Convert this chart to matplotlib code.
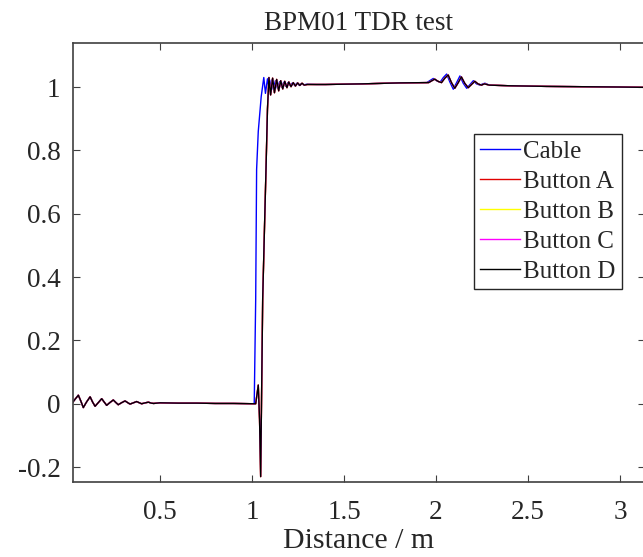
import matplotlib
matplotlib.use("Agg")
import matplotlib.pyplot as plt

# ---- data ----
title = "BPM01 TDR test"
xlabel = "Distance / m"
series_names = ["Cable", "Button A", "Button B", "Button C", "Button D"]
series_colors = ["#0000ff", "#e00000", "#ffff00", "#ff00ff", "#000000"]

x_ticks = [0.5, 1, 1.5, 2, 2.5, 3]
x_tick_labels = ["0.5", "1", "1.5", "2", "2.5", "3"]
y_ticks = [-0.2, 0, 0.2, 0.4, 0.6, 0.8, 1]
y_tick_labels = ["-0.2", "0", "0.2", "0.4", "0.6", "0.8", "1"]

# common ringing before the step
pre_x = [0.027, 0.056, 0.070, 0.083, 0.100, 0.120, 0.133, 0.147, 0.165, 0.183,
         0.197, 0.210, 0.228, 0.246, 0.260, 0.273, 0.290, 0.310, 0.323, 0.337,
         0.355, 0.373, 0.388, 0.400, 0.420, 0.437, 0.452, 0.465, 0.500, 0.600,
         0.700, 0.800, 0.900, 1.000]
pre_y = [0.006, 0.027, 0.008, -0.012, 0.005, 0.022, 0.006, -0.008, 0.004, 0.016,
         0.005, -0.005, 0.004, 0.012, 0.004, -0.003, 0.003, 0.009, 0.004, -0.001,
         0.003, 0.007, 0.003, 0.000, 0.003, 0.005, 0.002, 0.001, 0.003, 0.002,
         0.002, 0.001, 0.001, 0.000]

# Cable: step, ringing and later ripple
cable_x = [1.012, 1.020, 1.025, 1.034, 1.050, 1.064, 1.073, 1.084, 1.094, 1.105,
           1.116, 1.127, 1.138, 1.150, 1.161, 1.172, 1.184, 1.196, 1.208, 1.220,
           1.232, 1.244, 1.256, 1.268, 1.280, 1.300, 1.350, 1.400, 1.600, 1.800,
           1.950, 1.985, 2.003, 2.022, 2.040, 2.058, 2.076, 2.094, 2.112, 2.130,
           2.148, 2.167, 2.185, 2.203, 2.220, 2.239, 2.255, 2.266, 2.290, 2.400,
           2.600, 2.800, 3.000, 3.136]
cable_y = [0.000, 0.330, 0.740, 0.860, 0.970, 1.030, 0.980, 1.026, 0.988, 1.022,
           0.992, 1.020, 0.996, 1.017, 0.999, 1.015, 1.002, 1.014, 1.004, 1.013,
           1.005, 1.012, 1.006, 1.011, 1.007, 1.009, 1.008, 1.008, 1.010, 1.013,
           1.014, 1.027, 1.020, 1.015, 1.030, 1.041, 1.015, 0.993, 1.014, 1.035,
           1.012, 0.996, 1.008, 1.020, 1.010, 1.006, 1.010, 1.012, 1.006, 1.004,
           1.002, 1.001, 1.000, 0.999]

# Buttons: negative spike, later step, ringing and ripple
button_x = [1.020, 1.034, 1.041, 1.047, 1.058, 1.068, 1.076, 1.084, 1.092, 1.101,
            1.112, 1.122, 1.134, 1.145, 1.156, 1.167, 1.178, 1.190, 1.200, 1.212,
            1.224, 1.236, 1.248, 1.260, 1.272, 1.284, 1.300, 1.350, 1.400, 1.600,
            1.800, 1.960, 1.993, 2.011, 2.030, 2.048, 2.066, 2.084, 2.102, 2.120,
            2.138, 2.156, 2.175, 2.193, 2.211, 2.228, 2.247, 2.263, 2.290, 2.400,
            2.600, 2.800, 3.000, 3.136]
button_y = [0.000, 0.059, -0.050, -0.230, 0.330, 0.560, 0.740, 0.930, 1.030, 0.975,
            1.028, 0.982, 1.024, 0.988, 1.020, 0.994, 1.018, 0.998, 1.016, 1.001,
            1.014, 1.003, 1.013, 1.005, 1.012, 1.006, 1.008, 1.008, 1.008, 1.010,
            1.013, 1.014, 1.025, 1.018, 1.014, 1.028, 1.038, 1.014, 0.996, 1.013,
            1.032, 1.012, 0.998, 1.008, 1.018, 1.010, 1.006, 1.010, 1.006, 1.004,
            1.002, 1.001, 1.000, 0.999]

# ---- figure ----
plt.rcParams["font.family"] = ["Liberation Serif", "DejaVu Serif"]
W, H = 643, 557
fig = plt.figure(figsize=(W / 100, H / 100), dpi=100)
ax_left, ax_right, ax_top, ax_bottom = 73, 645, 43, 482
ax = fig.add_axes([ax_left / W, 1 - ax_bottom / H,
                   (ax_right - ax_left) / W, (ax_bottom - ax_top) / H])

lines = []
cable_full_x = pre_x[:-1] + cable_x
cable_full_y = pre_y[:-1] + cable_y
button_full_x = pre_x[:-1] + button_x
button_full_y = pre_y[:-1] + button_y

for name, color in zip(series_names, series_colors):
    if name == "Cable":
        xs, ys = cable_full_x, cable_full_y
    else:
        xs, ys = button_full_x, button_full_y
    ln, = ax.plot(xs, ys, color=color, lw=1.0, label=name)
    lines.append(ln)

ax.set_xlim(0.027, 3.136)
ax.set_ylim(-0.247, 1.139)
ax.set_xticks(x_ticks)
ax.set_xticklabels(x_tick_labels)
ax.set_yticks(y_ticks)
ax.set_yticklabels(y_tick_labels)

axis_color = "#404040"
for s in ax.spines.values():
    s.set_color(axis_color)
    s.set_linewidth(1.2)
ax.tick_params(direction="in", length=5, width=0.8, color=axis_color,
               labelsize=19.5, labelcolor="#262626", top=True, right=True)
ax.tick_params(axis="x", pad=13)
ax.tick_params(axis="y", pad=9)

ax.set_title(title, fontsize=19.5, color="#262626", pad=9)
ax.set_xlabel(xlabel, fontsize=21.5, color="#262626", labelpad=2)

leg = ax.legend(handles=lines, loc="upper left",
                bbox_to_anchor=(474 / W, 1 - 134 / H), bbox_transform=fig.transFigure,
                fontsize=18, frameon=True, fancybox=False, framealpha=1,
                edgecolor="#262626", borderpad=0.25, labelspacing=0.3,
                handlelength=1.6, handletextpad=0.12, borderaxespad=0)
leg.get_frame().set_linewidth(1.0)
for t in leg.get_texts():
    t.set_color("#262626")

fig.savefig("out.png", dpi=100)
